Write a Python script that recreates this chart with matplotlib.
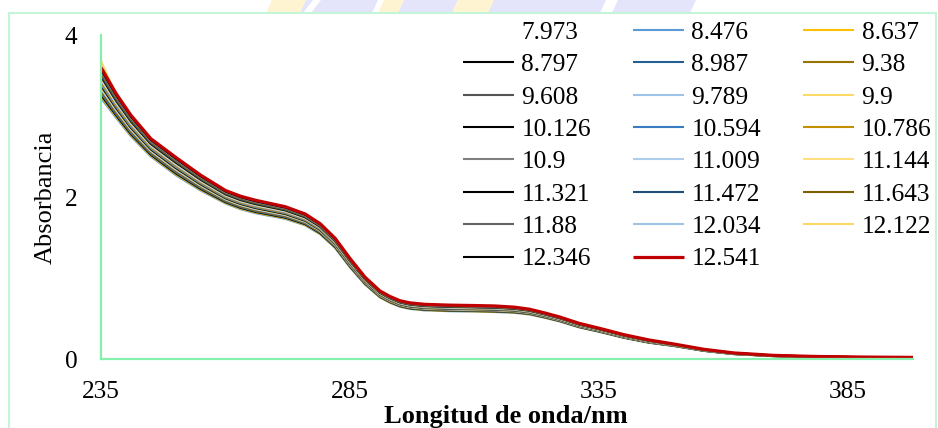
import matplotlib
matplotlib.use("Agg")
import matplotlib.pyplot as plt
from matplotlib.patches import Rectangle, Polygon

plt.rcParams['font.family'] = ['Liberation Serif', 'DejaVu Serif']

W, H = 938, 428

# Wavelength grid (nm)
wavelength = [235, 238, 241, 245, 250, 255, 260, 263, 266, 272, 276, 279, 282,
              285, 288, 291, 293, 295, 297, 300, 305, 310, 314, 318, 321, 324,
              327, 331, 335, 340, 345, 350, 356, 362, 370, 378, 388, 398]

# pH of each spectrum (legend labels)
ph_labels = ["7.973", "8.476", "8.637", "8.797", "8.987", "9.38", "9.608",
             "9.789", "9.9", "10.126", "10.594", "10.786", "10.9", "11.009",
             "11.144", "11.321", "11.472", "11.643", "11.88", "12.034",
             "12.122", "12.346", "12.541"]

# Absorbance spectra, one list per pH
abs_7_973 = [3.41, 3.13, 2.88, 2.61, 2.38, 2.175, 2.0, 1.93, 1.88, 1.805, 1.72, 1.605, 1.43, 1.185, 0.965, 0.8, 0.734, 0.683, 0.656, 0.638, 0.628, 0.623, 0.618, 0.605, 0.583, 0.54, 0.493, 0.415, 0.358, 0.28, 0.218, 0.173, 0.11, 0.068, 0.04, 0.027, 0.02, 0.016]
abs_8_476 = [3.22, 2.98, 2.75, 2.50, 2.27, 2.08, 1.92, 1.85, 1.80, 1.73, 1.65, 1.54, 1.37, 1.13, 0.92, 0.76, 0.695, 0.645, 0.618, 0.60, 0.59, 0.585, 0.58, 0.57, 0.55, 0.51, 0.465, 0.39, 0.335, 0.26, 0.20, 0.16, 0.10, 0.06, 0.035, 0.022, 0.016, 0.012]
abs_8_637 = [3.24, 2.995, 2.763, 2.511, 2.281, 2.09, 1.928, 1.858, 1.808, 1.738, 1.657, 1.547, 1.376, 1.136, 0.925, 0.764, 0.699, 0.649, 0.622, 0.604, 0.594, 0.589, 0.584, 0.574, 0.553, 0.513, 0.468, 0.393, 0.337, 0.262, 0.202, 0.161, 0.101, 0.061, 0.035, 0.023, 0.016, 0.012]
abs_8_797 = [3.258, 3.01, 2.776, 2.522, 2.292, 2.099, 1.936, 1.866, 1.816, 1.745, 1.664, 1.553, 1.382, 1.141, 0.929, 0.768, 0.703, 0.653, 0.626, 0.608, 0.598, 0.593, 0.588, 0.577, 0.557, 0.516, 0.471, 0.395, 0.34, 0.264, 0.204, 0.163, 0.102, 0.062, 0.036, 0.023, 0.017, 0.013]
abs_8_987 = [3.277, 3.025, 2.789, 2.533, 2.303, 2.109, 1.944, 1.874, 1.824, 1.753, 1.671, 1.56, 1.388, 1.147, 0.934, 0.772, 0.707, 0.656, 0.629, 0.611, 0.601, 0.596, 0.591, 0.581, 0.56, 0.519, 0.473, 0.398, 0.342, 0.266, 0.205, 0.164, 0.103, 0.062, 0.037, 0.024, 0.017, 0.013]
abs_9_38 = [3.296, 3.04, 2.802, 2.544, 2.314, 2.118, 1.952, 1.882, 1.832, 1.76, 1.678, 1.566, 1.394, 1.152, 0.938, 0.776, 0.71, 0.66, 0.633, 0.615, 0.605, 0.6, 0.595, 0.584, 0.563, 0.522, 0.476, 0.4, 0.344, 0.268, 0.207, 0.165, 0.104, 0.063, 0.037, 0.024, 0.018, 0.014]
abs_9_608 = [3.315, 3.055, 2.815, 2.555, 2.325, 2.128, 1.96, 1.89, 1.84, 1.768, 1.685, 1.573, 1.4, 1.158, 0.943, 0.78, 0.714, 0.664, 0.637, 0.619, 0.609, 0.604, 0.599, 0.588, 0.566, 0.525, 0.479, 0.403, 0.346, 0.27, 0.209, 0.166, 0.105, 0.064, 0.038, 0.025, 0.018, 0.014]
abs_9_789 = [3.334, 3.07, 2.828, 2.566, 2.336, 2.137, 1.968, 1.898, 1.848, 1.775, 1.692, 1.579, 1.406, 1.163, 0.947, 0.784, 0.718, 0.668, 0.641, 0.623, 0.613, 0.608, 0.603, 0.591, 0.57, 0.528, 0.482, 0.405, 0.349, 0.272, 0.211, 0.168, 0.106, 0.065, 0.038, 0.025, 0.018, 0.014]
abs_9_9 = [3.353, 3.085, 2.841, 2.577, 2.347, 2.147, 1.976, 1.906, 1.856, 1.783, 1.699, 1.586, 1.412, 1.169, 0.952, 0.788, 0.722, 0.671, 0.644, 0.626, 0.616, 0.611, 0.606, 0.595, 0.573, 0.531, 0.484, 0.408, 0.351, 0.274, 0.212, 0.169, 0.107, 0.065, 0.039, 0.026, 0.019, 0.015]
abs_10_126 = [3.372, 3.1, 2.854, 2.588, 2.358, 2.156, 1.984, 1.914, 1.864, 1.79, 1.706, 1.592, 1.418, 1.174, 0.956, 0.792, 0.726, 0.675, 0.648, 0.63, 0.62, 0.615, 0.61, 0.598, 0.576, 0.534, 0.487, 0.41, 0.353, 0.276, 0.214, 0.17, 0.108, 0.066, 0.039, 0.026, 0.019, 0.015]
abs_10_594 = [3.391, 3.115, 2.867, 2.599, 2.369, 2.166, 1.992, 1.922, 1.872, 1.798, 1.713, 1.599, 1.424, 1.18, 0.961, 0.796, 0.73, 0.679, 0.652, 0.634, 0.624, 0.619, 0.614, 0.602, 0.579, 0.537, 0.49, 0.413, 0.355, 0.278, 0.216, 0.171, 0.109, 0.067, 0.04, 0.027, 0.02, 0.016]
abs_10_786 = [3.41, 3.13, 2.88, 2.61, 2.38, 2.175, 2.0, 1.93, 1.88, 1.805, 1.72, 1.605, 1.43, 1.185, 0.965, 0.8, 0.734, 0.683, 0.656, 0.638, 0.628, 0.623, 0.618, 0.605, 0.583, 0.54, 0.493, 0.415, 0.358, 0.28, 0.218, 0.173, 0.11, 0.068, 0.04, 0.027, 0.02, 0.016]
abs_10_9 = [3.429, 3.145, 2.893, 2.621, 2.391, 2.185, 2.008, 1.938, 1.888, 1.813, 1.727, 1.612, 1.436, 1.191, 0.97, 0.804, 0.737, 0.686, 0.659, 0.641, 0.631, 0.626, 0.621, 0.609, 0.586, 0.543, 0.495, 0.418, 0.36, 0.282, 0.219, 0.174, 0.111, 0.068, 0.041, 0.028, 0.02, 0.016]
abs_11_009 = [3.448, 3.16, 2.906, 2.632, 2.402, 2.194, 2.016, 1.946, 1.896, 1.82, 1.734, 1.618, 1.442, 1.196, 0.974, 0.808, 0.741, 0.69, 0.663, 0.645, 0.635, 0.63, 0.625, 0.612, 0.589, 0.546, 0.498, 0.42, 0.362, 0.284, 0.221, 0.175, 0.112, 0.069, 0.041, 0.028, 0.021, 0.017]
abs_11_144 = [3.467, 3.175, 2.919, 2.643, 2.413, 2.204, 2.024, 1.954, 1.904, 1.828, 1.741, 1.625, 1.448, 1.202, 0.979, 0.812, 0.745, 0.694, 0.667, 0.649, 0.639, 0.634, 0.629, 0.616, 0.592, 0.549, 0.501, 0.423, 0.364, 0.286, 0.223, 0.176, 0.113, 0.07, 0.042, 0.029, 0.021, 0.017]
abs_11_321 = [3.486, 3.19, 2.932, 2.654, 2.424, 2.213, 2.032, 1.962, 1.912, 1.835, 1.748, 1.631, 1.454, 1.207, 0.983, 0.816, 0.749, 0.698, 0.671, 0.653, 0.643, 0.638, 0.633, 0.619, 0.596, 0.552, 0.504, 0.425, 0.367, 0.288, 0.225, 0.178, 0.114, 0.071, 0.042, 0.029, 0.022, 0.018]
abs_11_472 = [3.505, 3.205, 2.945, 2.665, 2.435, 2.223, 2.04, 1.97, 1.92, 1.843, 1.755, 1.638, 1.46, 1.213, 0.988, 0.82, 0.753, 0.701, 0.674, 0.656, 0.646, 0.641, 0.636, 0.623, 0.599, 0.555, 0.506, 0.428, 0.369, 0.29, 0.226, 0.179, 0.115, 0.071, 0.043, 0.03, 0.022, 0.018]
abs_11_643 = [3.524, 3.22, 2.958, 2.676, 2.446, 2.232, 2.048, 1.978, 1.928, 1.85, 1.762, 1.644, 1.466, 1.218, 0.992, 0.824, 0.757, 0.705, 0.678, 0.66, 0.65, 0.645, 0.64, 0.626, 0.602, 0.558, 0.509, 0.43, 0.371, 0.292, 0.228, 0.18, 0.116, 0.072, 0.043, 0.03, 0.022, 0.018]
abs_11_88 = [3.543, 3.235, 2.971, 2.687, 2.457, 2.242, 2.056, 1.986, 1.936, 1.858, 1.769, 1.651, 1.472, 1.224, 0.997, 0.828, 0.76, 0.709, 0.682, 0.664, 0.654, 0.649, 0.644, 0.63, 0.605, 0.561, 0.512, 0.433, 0.373, 0.294, 0.23, 0.181, 0.117, 0.073, 0.044, 0.031, 0.023, 0.019]
abs_12_034 = [3.562, 3.25, 2.984, 2.698, 2.468, 2.251, 2.064, 1.994, 1.944, 1.865, 1.776, 1.657, 1.478, 1.229, 1.001, 0.832, 0.764, 0.713, 0.686, 0.668, 0.658, 0.653, 0.648, 0.633, 0.609, 0.564, 0.515, 0.435, 0.376, 0.296, 0.232, 0.183, 0.118, 0.074, 0.044, 0.031, 0.023, 0.019]
abs_12_122 = [3.68, 3.265, 2.997, 2.709, 2.479, 2.26, 2.072, 2.002, 1.952, 1.873, 1.783, 1.664, 1.484, 1.235, 1.006, 0.836, 0.768, 0.716, 0.689, 0.671, 0.661, 0.656, 0.651, 0.637, 0.612, 0.567, 0.517, 0.438, 0.378, 0.298, 0.233, 0.184, 0.119, 0.074, 0.045, 0.032, 0.024, 0.02]
abs_12_346 = [3.57, 3.256, 2.99, 2.703, 2.473, 2.255, 2.067, 1.997, 1.947, 1.868, 1.779, 1.66, 1.48, 1.231, 1.003, 0.834, 0.766, 0.714, 0.687, 0.669, 0.659, 0.654, 0.649, 0.635, 0.61, 0.565, 0.516, 0.436, 0.376, 0.297, 0.232, 0.183, 0.118, 0.074, 0.044, 0.031, 0.023, 0.019]
abs_12_541 = [3.60, 3.28, 3.01, 2.72, 2.49, 2.27, 2.08, 2.01, 1.96, 1.88, 1.79, 1.67, 1.49, 1.24, 1.01, 0.84, 0.772, 0.72, 0.693, 0.675, 0.665, 0.66, 0.655, 0.64, 0.615, 0.57, 0.52, 0.44, 0.38, 0.30, 0.235, 0.185, 0.12, 0.075, 0.045, 0.032, 0.024, 0.02]

spectra = [abs_7_973, abs_8_476, abs_8_637, abs_8_797, abs_8_987, abs_9_38,
           abs_9_608, abs_9_789, abs_9_9, abs_10_126, abs_10_594, abs_10_786,
           abs_10_9, abs_11_009, abs_11_144, abs_11_321, abs_11_472,
           abs_11_643, abs_11_88, abs_12_034, abs_12_122, abs_12_346,
           abs_12_541]

colors = ['#FFFFFF', '#5B9BD5', '#FFC000', '#000000', '#255E91', '#997300',
          '#555555', '#9DC3E6', '#FFD966', '#000000', '#3A7CC0', '#C49000',
          '#7F7F7F', '#AFCDEC', '#FFDF80', '#000000', '#1F4E79', '#7F6000',
          '#636363', '#9DC3E6', '#FFD966', '#000000', '#C00000']

x_ticks = [235, 285, 335, 385]
y_ticks = [0, 2, 4]


def fx(px):
    return px / W


def fy(py):
    return 1 - py / H


fig = plt.figure(figsize=(W / 100, H / 100), dpi=100)
fig.patch.set_facecolor('white')

# faint logo peeking above the chart frame
logo_bands = [(266, 300, '#FFF4D2'), (300, 372, '#E4E4FA'), (378, 398, '#FFF4D2'),
              (398, 452, '#E4E4FA'), (452, 488, '#FFF4D2'), (488, 600, '#E4E4FA'),
              (612, 690, '#E4E4FA')]
for x0, x1, c in logo_bands:
    fig.patches.append(Polygon([(fx(x0), fy(13)), (fx(x1), fy(13)),
                                (fx(x1 + 6), fy(0)), (fx(x0 + 6), fy(0))],
                               closed=True, transform=fig.transFigure,
                               facecolor=c, edgecolor='none', zorder=-3))
fig.patches.append(Polygon([(fx(303), fy(13)), (fx(311), fy(13)),
                            (fx(321), fy(0)), (fx(313), fy(0))], closed=True,
                           transform=fig.transFigure, facecolor='white',
                           edgecolor='none', zorder=-2))

# chart area frame
fig.patches.append(Rectangle((fx(9), -0.2), fx(936) - fx(9), fy(13) + 0.2,
                             transform=fig.transFigure, facecolor='white',
                             edgecolor='#C4F5D8', linewidth=1.5, zorder=-1))

ax = fig.add_axes([fx(101), fy(359), fx(913) - fx(101), fy(35) - fy(359)])
ax.patch.set_alpha(0)

for i, (vals, c) in enumerate(zip(spectra, colors)):
    lw = 2.3 if i == len(spectra) - 1 else 1.5
    ax.plot(wavelength, vals, color=c, linewidth=lw, label=ph_labels[i],
            solid_capstyle='butt', solid_joinstyle='round')

ax.set_xlim(235, 398)
ax.set_ylim(0, 4)
ax.set_xticks(x_ticks)
ax.set_yticks(y_ticks)
ax.tick_params(axis='both', length=0, labelsize=18.3, colors='black')
ax.tick_params(axis='x', pad=16)
ax.tick_params(axis='y', pad=17)

for side in ('top', 'right'):
    ax.spines[side].set_visible(False)
for side in ('left', 'bottom'):
    ax.spines[side].set_color('#86EFAC')
    ax.spines[side].set_linewidth(1.6)

fig.text(fx(46), fy(197), 'Absorbancia', rotation=90, ha='center',
         va='center', fontsize=19)
fig.text(fx(506), fy(423), 'Longitud de onda/nm', ha='center',
         va='baseline', fontsize=19, fontweight='bold')

# legend filled row by row in three columns
handles, labels = ax.get_legend_handles_labels()
n = len(handles)
order = [k for col in range(3) for k in range(col, n, 3)]
ax.legend([handles[k] for k in order], [labels[k] for k in order], ncol=3,
          loc='upper left', bbox_to_anchor=(fx(463), fy(21)),
          bbox_transform=fig.transFigure, frameon=False, fontsize=18.3,
          handlelength=2.0, handletextpad=0.3, columnspacing=1.65,
          labelspacing=0.377, borderpad=0, borderaxespad=0)

fig.savefig('out.png', dpi=100)
